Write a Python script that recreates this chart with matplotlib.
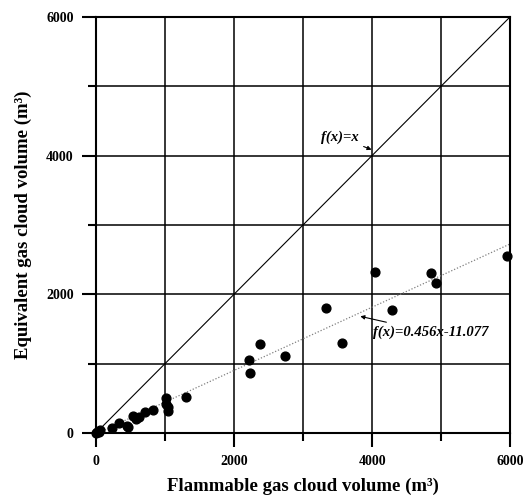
import numpy as np
import matplotlib.pyplot as plt
from matplotlib.ticker import MultipleLocator

plt.rcParams['font.family'] = ['Liberation Serif', 'DejaVu Serif']
plt.rcParams['font.weight'] = 'bold'

# flammable vs equivalent gas cloud volume (m3)
flam_vol = [0, 15, 40, 60, 226, 332, 442, 466, 538, 577, 625, 707, 827,
            1010, 1019, 1043, 1043, 1298, 2213, 2236, 2377, 2739, 3333,
            3565, 4043, 4290, 4850, 4928, 5952]
equiv_vol = [0, 10, 20, 35, 67, 149, 106, 82, 245, 197, 235, 303, 332,
             418, 509, 380, 317, 524, 1058, 865, 1280, 1106, 1802,
             1290, 2314, 1768, 2300, 2155, 2546]

slope = 0.456
intercept = -11.077

fig = plt.figure(figsize=(5.28, 4.97), dpi=100)
ax = fig.add_axes([0.182, 0.129, 0.784, 0.837])

xx = np.array([0, 6000])
ax.plot(xx, xx, color='black', lw=0.8, zorder=2)
ax.plot(xx, slope * xx + intercept, color='gray', lw=0.9, ls=(0, (1, 1.5)), zorder=2)
ax.scatter(flam_vol, equiv_vol, s=40, color='black', zorder=3, clip_on=False)

ax.set_xlim(0, 6000)
ax.set_ylim(0, 6000)
ax.xaxis.set_major_locator(MultipleLocator(2000))
ax.xaxis.set_minor_locator(MultipleLocator(1000))
ax.yaxis.set_major_locator(MultipleLocator(2000))
ax.yaxis.set_minor_locator(MultipleLocator(1000))
ax.grid(which='both', color='black', lw=1.1, zorder=1)
ax.set_axisbelow(True)
ax.tick_params(which='major', direction='out', length=10, width=1.5, labelsize=10, pad=6)
ax.tick_params(which='minor', direction='out', length=6, width=1.5)
for s in ax.spines.values():
    s.set_linewidth(1.5)
for lab in ax.get_xticklabels() + ax.get_yticklabels():
    lab.set_fontweight('bold')

ax.set_xlabel('Flammable gas cloud volume (m³)', fontsize=13.5, fontweight='bold', labelpad=7)
ax.set_ylabel('Equivalent gas cloud volume (m³)', fontsize=13.5, fontweight='bold', labelpad=10)

ax.annotate('f(x)=x', xy=(4030, 4070), xytext=(3800, 4270),
            ha='right', va='center', fontsize=10.5, fontweight='bold', style='italic',
            arrowprops=dict(arrowstyle='-|>', color='black', lw=0.8, mutation_scale=6))
ax.annotate('f(x)=0.456x-11.077', xy=(3790, 1690), xytext=(4020, 1450),
            ha='left', va='center', fontsize=10.5, fontweight='bold', style='italic',
            arrowprops=dict(arrowstyle='-|>', color='black', lw=0.8, mutation_scale=6))

fig.savefig('out.png', dpi=100)
